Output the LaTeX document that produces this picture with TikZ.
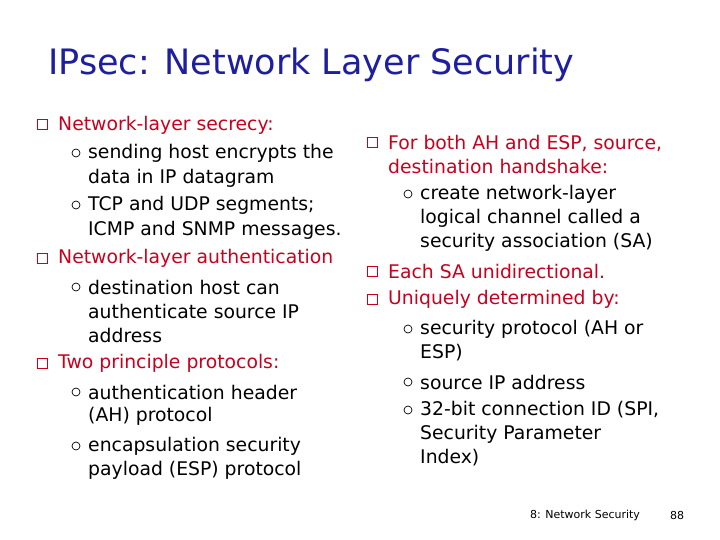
\documentclass[tikz,border=0pt]{standalone}
\usepackage{fontspec}
\setmainfont{DejaVu Sans}
\begin{document}
\begin{tikzpicture}[x=1pt,y=-1pt,
  t/.style={anchor=west,inner sep=0pt,font=\fontsize{18.8}{22}\selectfont},
  lone/.style={t,text={rgb,255:red,200;green,0;blue,30}},
  ltwo/.style={t,text=black},
  sq/.style={draw={rgb,255:red,200;green,0;blue,30},line width=1pt,minimum size=10pt,inner sep=0pt},
  ci/.style={draw=black,circle,line width=0.7pt,minimum size=8pt,inner sep=0pt}]
\useasboundingbox (0,0) rectangle (720,540);
\node[anchor=west,inner sep=0pt,font=\fontsize{35}{38}\selectfont,text={rgb,255:red,30;green,30;blue,160}] (title) at (48,65) {IPsec: Network Layer Security};
% left
\node[sq] (b1) at (42,125) {};
\node[lone] (l1) at (58,125) {Network-layer secrecy:};
\node[ci] (c1) at (76,153) {};
\node[ltwo] (l2) at (88,153) {sending host encrypts the};
\node[ltwo] (l3) at (88,178) {data in IP datagram};
\node[ci] (c2) at (76,205) {};
\node[ltwo] (l4) at (88,205) {TCP and UDP segments;};
\node[ltwo] (l5) at (88,230) {ICMP and SNMP messages.};
\node[sq] (b2) at (42,258) {};
\node[lone] (l6) at (58,258) {Network-layer authentication};
\node[ci] (c3) at (76,287) {};
\node[ltwo] (l7) at (88,287) {destination host can};
\node[ltwo] (l8) at (88,311) {authenticate source IP};
\node[ltwo] (l9) at (88,335) {address};
\node[sq] (b3) at (42,363) {};
\node[lone] (l10) at (58,363) {Two principle protocols:};
\node[ci] (c4) at (76,392) {};
\node[ltwo] (l11) at (88,392) {authentication header};
\node[ltwo] (l12) at (88,416) {(AH) protocol};
\node[ci] (c5) at (76,446) {};
\node[ltwo] (l13) at (88,446) {encapsulation security};
\node[ltwo] (l14) at (88,470) {payload (ESP) protocol};
% right
\node[sq] (b4) at (372,143) {};
\node[lone] (r1) at (388,143) {For both AH and ESP, source,};
\node[lone] (r2) at (388,166) {destination handshake:};
\node[ci] (c6) at (408,194) {};
\node[ltwo] (r3) at (420,194) {create network-layer};
\node[ltwo] (r4) at (420,218) {logical channel called a};
\node[ltwo] (r5) at (420,242) {security association (SA)};
\node[sq] (b5) at (372,271) {};
\node[lone] (r6) at (388,271) {Each SA unidirectional.};
\node[sq] (b6) at (372,299) {};
\node[lone] (r7) at (388,299) {Uniquely determined by:};
\node[ci] (c7) at (408,329) {};
\node[ltwo] (r8) at (420,329) {security protocol (AH or};
\node[ltwo] (r9) at (420,353) {ESP)};
\node[ci] (c8) at (408,382) {};
\node[ltwo] (r10) at (420,382) {source IP address};
\node[ci] (c9) at (408,410) {};
\node[ltwo] (r11) at (420,410) {32-bit connection ID (SPI,};
\node[ltwo] (r12) at (420,434) {Security Parameter};
\node[ltwo] (r13) at (420,458) {Index)};
% footer
\node[inner sep=0pt,font=\fontsize{11}{13}\selectfont] (f1) at (585,515) {8: Network Security};
\node[inner sep=0pt,font=\fontsize{11}{13}\selectfont] (f2) at (677,515) {88};
\end{tikzpicture}
\end{document}
